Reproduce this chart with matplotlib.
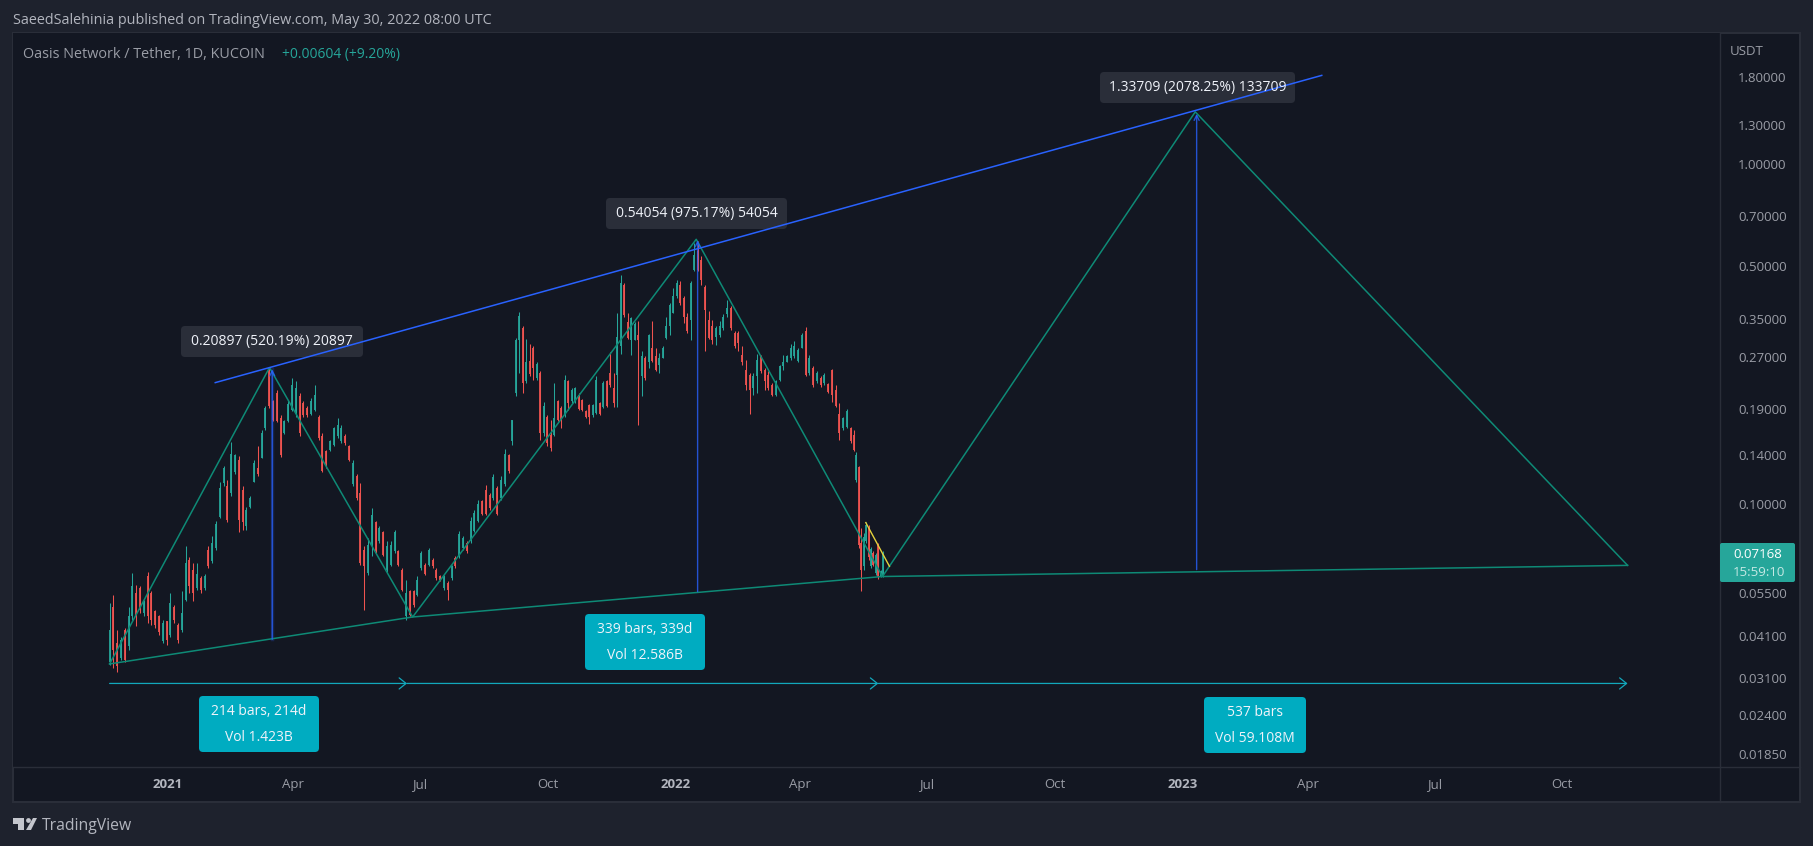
import numpy as np
import pandas as pd
import matplotlib
matplotlib.use('Agg')
import matplotlib.pyplot as plt
import matplotlib.dates as mdates
from matplotlib.patches import Rectangle, FancyBboxPatch, Polygon, Circle
from matplotlib.lines import Line2D
from matplotlib.ticker import NullLocator
from matplotlib.transforms import Affine2D

plt.rcParams['font.family'] = ['Open Sans', 'DejaVu Sans']

# candles
opens = [.0345,.0501,.0391,.0353,.0428,.0383,.0469,.0549,.0568,.0479,.0615,.0549,.0485,.0469,.0396,.0453,.0414,.0501,.0443,.0428,
         .0525,.0688,.0643,.0568,.0608,.0568,.0736,.0682,.0743,.0920,.1153,.1134,.1080,.1242,.1353,.1104,.0861,.0985,.1166,.1280,
         .1366,.1676,.2487,.2008,.2120,.1790,.1621,.1756,.1897,.1843,.2075,.1986,.1918,.1843,.1897,.1807,.1590,.1430,.1447,.1497,
         .1590,.1535,.1590,.1480,.1148,.1214,.1080,.0736,.0630,.0753,.0885,.0779,.0827,.0643,.0665,.0728,.0728,.0643,.0469,.0555,
         .0555,.0543,.0650,.0665,.0665,.0688,.0643,.0615,.0568,.0588,.0608,.0696,.0704,.0743,.0771,.0779,.0835,.0893,.1020,.1104,
         .1068,.1044,.1118,.1044,.1148,.1398,
         .1530,.2120,.3046,.3300,.2300,.2640,.2880,.2350,.2430,.1620,.1810,.1600,.1600,.2010,.1920,.1830,.2300,.2010,.2010,.2100,
         .2030,.1880,.1960,.1830,.1860,.1980,.1935,.2300,.2430,.2190,.2400,.2910,.4420,.3420,.3046,.3046,.3150,.2380,.2690,.2610,
         .2870,.2720,.2570,.2690,.3080,.3340,.3640,.4100,.4420,.4030,.3560,.3488,.4891,.5530,.5233,.4340,.3488,.3340,.3110,.3150,
         .3300,.3610,.3760,.3190,.3190,.2750,.2487,.2400,.2190,.2380,.2720,.2487,.2400,.2240,.2100,.2324,.2540,.2620,.2690,.2720,
         .2640,.2880,.3230,.2430,.2510,.2300,.2350,.2270,.2255,.2487,.2172,.1840,.1675,.1690,.1675,.1600,.1180,.1290,.0770,.0660,
         .0780,.0860,.0660,.0722,.0630,.0760,.0618,.0620]
highs = [.0513,.0543,.0428,.0409,.0433,.0501,.0629,.0581,.0574,.0525,.0632,.0555,.0490,.0474,.0458,.0453,.0549,.0507,.0448,.0555,
         .0756,.0699,.0671,.0671,.0615,.0626,.0753,.0810,.0893,.1166,.1294,.1181,.1529,.1410,.1390,.1134,.0985,.1056,.1353,.1480,
         .1657,.1940,.2514,.2030,.2172,.1835,.1773,.2030,.2348,.2297,.2120,.2008,.1940,.2053,.2241,.1825,.1621,.1447,.1549,.1688,
         .1790,.1705,.1605,.1497,.1353,.1226,.1153,.0753,.0797,.0975,.0893,.0861,.0835,.0779,.0779,.0843,.0736,.0650,.0601,.0561,
         .0561,.0615,.0728,.0671,.0743,.0696,.0650,.0619,.0619,.0595,.0665,.0704,.0835,.0810,.0779,.0920,.0965,.1032,.1032,.1140,
         .1080,.1226,.1134,.1214,.1453,.1410,
         .1773,.3080,.3676,.3340,.3060,.2950,.2910,.2610,.2460,.2000,.1830,.1773,.2270,.2030,.1940,.2405,.2324,.2190,.2205,.2125,
         .2045,.1897,.1975,.1975,.2380,.2000,.2300,.2324,.2810,.2430,.3640,.4700,.4470,.3640,.3560,.3420,.3450,.2820,.2720,.3170,
         .3450,.2870,.2780,.2910,.3560,.3900,.4320,.4571,.4520,.4100,.3640,.4520,.5860,.5950,.5350,.4420,.3690,.3488,.3340,.3450,
         .3610,.3993,.3810,.3230,.3230,.2910,.2661,.2430,.2430,.2770,.2750,.2510,.2460,.2270,.2324,.2570,.2750,.2750,.2960,.3010,
         .2880,.3190,.3310,.2750,.2540,.2460,.2380,.2430,.2270,.2500,.2240,.1980,.1810,.1905,.1690,.1657,.1420,.1300,.0850,.0822,
         .0888,.0870,.0750,.0730,.0722,.0768,.0640,.0730]
lows = [.0338,.0330,.0323,.0349,.0345,.0374,.0458,.0438,.0479,.0469,.0448,.0443,.0433,.0414,.0391,.0387,.0409,.0448,.0391,.0423,
        .0520,.0549,.0520,.0561,.0549,.0561,.0650,.0671,.0736,.0911,.1134,.0885,.1056,.1226,.0831,.0843,.0843,.0975,.1166,.1214,
        .1366,.1657,.1918,.1756,.1740,.1380,.1605,.1740,.1880,.1807,.1590,.1807,.1807,.1825,.1880,.1549,.1245,.1280,.1430,.1480,
        .1565,.1514,.1497,.1337,.1134,.1032,.0665,.0490,.0619,.0704,.0719,.0771,.0704,.0635,.0657,.0719,.0657,.0555,.0458,.0469,
        .0501,.0537,.0643,.0619,.0657,.0650,.0601,.0595,.0561,.0525,.0601,.0650,.0696,.0736,.0719,.0771,.0827,.0885,.0930,.0930,
        .0965,.1032,.0930,.1032,.1134,.1238,
        .1495,.2075,.2430,.2120,.2270,.2380,.2324,.2324,.1549,.1585,.1480,.1430,.1585,.1755,.1675,.1810,.1897,.1980,.1980,.1897,
        .1880,.1790,.1725,.1810,.1840,.1830,.1915,.1935,.2210,.1935,.1935,.2760,.3550,.3060,.2750,.3030,.1715,.2075,.2324,.2510,
        .2610,.2460,.2430,.2690,.3060,.3150,.3640,.4030,.3850,.3410,.3190,.3046,.4830,.4830,.4420,.2820,.3060,.2950,.2930,.3110,
        .3260,.3560,.3260,.2880,.2820,.2570,.2172,.1840,.2100,.2125,.2430,.2172,.2172,.2075,.2075,.2300,.2487,.2610,.2661,.2690,
        .2610,.2880,.2380,.2400,.2210,.2270,.2210,.2240,.2125,.2000,.1935,.1549,.1657,.1675,.1515,.1430,.1165,.0745,.0557,.0643,
        .0768,.0688,.0651,.0657,.0620,.0605,.0614,.0614]
closes = [.0428,.0374,.0335,.0400,.0349,.0469,.0574,.0469,.0490,.0520,.0469,.0458,.0443,.0423,.0448,.0400,.0513,.0458,.0400,.0479,
          .0671,.0574,.0549,.0626,.0561,.0615,.0657,.0771,.0876,.1118,.1280,.0902,.1410,.1398,.0902,.0885,.0965,.1044,.1320,.1226,
          .1621,.1918,.1940,.1773,.1756,.1400,.1756,.1965,.2241,.2200,.1621,.1825,.1825,.2008,.2098,.1565,.1250,.1294,.1535,.1676,
          .1705,.1676,.1514,.1353,.1320,.1044,.0671,.0657,.0762,.0930,.0728,.0852,.0712,.0753,.0762,.0827,.0665,.0561,.0549,.0474,
          .0507,.0601,.0719,.0626,.0736,.0657,.0608,.0598,.0615,.0561,.0657,.0657,.0819,.0797,.0728,.0893,.0945,.1000,.0940,.0940,
          .0975,.1200,.0940,.1181,.1410,.1250,
          .1773,.3046,.3570,.2270,.2610,.2410,.2510,.2580,.1620,.1950,.1515,.1465,.1790,.1773,.1773,.2324,.1980,.2172,.2190,.1910,
          .1897,.1800,.1810,.1960,.2324,.1840,.2270,.1950,.2240,.1980,.3110,.4470,.3600,.3080,.3520,.3380,.3046,.2720,.2350,.3150,
          .2640,.2487,.2690,.2880,.3340,.3850,.4100,.4470,.3900,.3560,.3230,.4470,.5410,.4891,.4571,.3730,.3080,.3046,.3300,.3340,
          .3560,.3760,.3300,.2910,.2980,.2610,.2240,.2172,.2380,.2661,.2460,.2300,.2190,.2100,.2300,.2540,.2610,.2720,.2880,.2910,
          .2847,.3150,.2400,.2690,.2240,.2430,.2240,.2400,.2140,.2100,.1950,.1620,.1790,.1880,.1530,.1440,.1400,.0760,.0640,.0800,
          .0870,.0700,.0740,.0665,.0710,.0612,.0636,.0717]

# zigzag and channel drawings
zigzag_dates = ['2020-11-20', '2021-03-15', '2021-06-26', '2022-01-16', '2022-05-30', '2023-01-10', '2023-11-17']
zigzag_prices = [.0340, .2520, .0467, .600, .0614, 1.42, .0662]
lower_dates = ['2020-11-20', '2021-06-26', '2022-05-30', '2023-11-17']
lower_prices = [.0340, .0467, .0614, .0662]
upper_dates = ['2021-02-04', '2023-04-11']
upper_prices = [.2277, 1.817]
wedge_dates = ['2022-05-18', '2022-06-04']
wedge_prices = [.0884, .0658]
measure_dates = ['2021-03-17', '2022-01-17', '2023-01-11']
measure_lows = [.04017, .05543, .06434]
measure_highs = [.24914, .59597, 1.40143]
measure_labels = ['0.20897 (520.19%) 20897', '0.54054 (975.17%) 54054', '1.33709 (2078.25%) 133709']
span_dates = ['2020-11-20', '2021-06-22', '2022-05-27', '2023-11-17']
span_price = .0298
span_labels = [['214 bars, 214d', 'Vol 1.423B'], ['339 bars, 339d', 'Vol 12.586B'], ['537 bars', 'Vol 59.108M']]

price_ticks = [1.8, 1.3, 1.0, .7, .5, .35, .27, .19, .14, .10, .075, .055, .041, .031, .024, .0185]
time_ticks = ['2021-01-01', '2021-04-01', '2021-07-01', '2021-10-01', '2022-01-01', '2022-04-01', '2022-07-01',
              '2022-10-01', '2023-01-01', '2023-04-01', '2023-07-01', '2023-10-01']
time_labels = ['2021', 'Apr', 'Jul', 'Oct', '2022', 'Apr', 'Jul', 'Oct', '2023', 'Apr', 'Jul', 'Oct']

BG = '#1e222d'
PANE = '#131722'
EDGE = '#2a2e39'
GREEN = '#26a69a'
RED = '#ef5350'
LINE_GREEN = '#0e8a76'
BLUE = '#2962ff'
CYAN = '#00acc1'
GREY = '#9a9da6'

W, H = 1813, 846


def dnum(s):
    return mdates.date2num(pd.to_datetime(s))


fig = plt.figure(figsize=(W / 100, H / 100), dpi=100, facecolor=BG)
# pixel coordinates, origin top left
px = Affine2D().scale(1, -1).translate(0, H)

L, T, R, B = 13, 33, 1720, 767
ax = fig.add_axes([L / W, 1 - B / H, (R - L) / W, (B - T) / H], facecolor=PANE)
fig.add_artist(Rectangle((L, T), 1800 - L, 802 - T, transform=px, fc=PANE, ec=EDGE, lw=1.5, zorder=-1))
fig.add_artist(Line2D([R, R], [B, 802], transform=px, color=EDGE, lw=1, zorder=-0.5))
fig.add_artist(Line2D([R, 1800], [B, B], transform=px, color=EDGE, lw=1, zorder=-0.5))

ax.set_yscale('log')
day0 = dnum('2021-01-01')
ax.set_xlim(day0 - 111.5, day0 + 1116.5)
ax.set_ylim(.01694, 2.42)

for side in ['top', 'left']:
    ax.spines[side].set_visible(False)
for side in ['right', 'bottom']:
    ax.spines[side].set_color(EDGE)
    ax.spines[side].set_linewidth(1)

# the bar spacing is not quite even in the reference because of the 1D thinning
bar_x = day0 + np.concatenate([np.linspace(-42, 245, 106), np.linspace(247.5, 381, 54),
                               np.linspace(383.5, 491, 41), np.linspace(493.5, 514.5, 13)])
o, h, l, c = [np.array(v) for v in (opens, highs, lows, closes)]
colors = np.where(c >= o, GREEN, RED)
ax.vlines(bar_x, l, h, colors=colors, lw=0.75, zorder=2)
ax.vlines(bar_x, o, c, colors=colors, lw=1.3, zorder=2)

ax.plot([dnum(d) for d in zigzag_dates], zigzag_prices, color=LINE_GREEN, lw=1.1, zorder=3)
ax.plot([dnum(d) for d in lower_dates], lower_prices, color=LINE_GREEN, lw=1.1, zorder=3)
# runs over the label boxes in the reference
ax.plot([dnum(d) for d in upper_dates], upper_prices, color=BLUE, lw=1.1, zorder=7.5)
ax.plot([dnum(d) for d in wedge_dates], wedge_prices, color='#e3d23c', lw=1.0, zorder=3)

# price ranges
for d, lo, hi in zip(measure_dates, measure_lows, measure_highs):
    ax.annotate('', xy=(dnum(d), hi), xytext=(dnum(d), lo), zorder=3,
                arrowprops=dict(arrowstyle='->', color=BLUE, lw=1, shrinkA=0, shrinkB=0, mutation_scale=9, alpha=.8))
ax.plot([dnum(measure_dates[0])] * 2, [measure_lows[0], measure_highs[0]], color=BLUE, lw=2.5, alpha=.2, zorder=2)

# date ranges
for d0, d1 in zip(span_dates[:-1], span_dates[1:]):
    ax.annotate('', xy=(dnum(d1), span_price), xytext=(dnum(d0), span_price), zorder=3,
                arrowprops=dict(arrowstyle='->,head_length=.5,head_width=.4', color='#12a8bc', lw=0.9,
                                shrinkA=0, shrinkB=0, mutation_scale=10))

ax.yaxis.tick_right()
ax.set_yticks(price_ticks)
ax.set_yticklabels(['%.5f' % p for p in price_ticks])
ax.yaxis.set_minor_locator(NullLocator())
ax.tick_params(axis='y', length=0, pad=13, labelcolor=GREY, labelsize=9.5)
ax.set_xticks([dnum(d) for d in time_ticks])
ax.set_xticklabels(time_labels)
ax.tick_params(axis='x', length=0, pad=8, labelcolor=GREY, labelsize=9.5)
for lab in ax.get_xticklabels():
    if lab.get_text().startswith('20'):
        lab.set_fontweight('bold')
        lab.set_color('#b2b5be')


def txt(x, y, s, size=9.5, color=GREY, ha='left', zorder=8, **kw):
    ax.text(x, y, s, transform=px, fontsize=size, color=color, ha=ha, va='center', zorder=zorder, clip_on=False, **kw)


def box(x0, y0, x1, y1, color, r=4):
    ax.add_patch(FancyBboxPatch((x0 + r, y0 + r), x1 - x0 - 2 * r, y1 - y0 - 2 * r, transform=px,
                                boxstyle='round,pad=%d,rounding_size=%d' % (r, r), fc=color, ec='none',
                                clip_on=False, zorder=7))


# measure labels
tip_boxes = [(181, 326, 363, 357), (606, 198, 787, 229), (1100, 72, 1295, 103)]
for (x0, y0, x1, y1), s in zip(tip_boxes, measure_labels):
    box(x0, y0, x1, y1, '#2a2e39')
    txt((x0 + x1) / 2, (y0 + y1) / 2, s, size=10, color='#f0f3fa', ha='center')

# bar count labels
count_boxes = [(199, 696, 319, 752), (585, 614, 705, 670), (1204, 697, 1306, 753)]
for (x0, y0, x1, y1), lines in zip(count_boxes, span_labels):
    box(x0, y0, x1, y1, CYAN)
    txt((x0 + x1) / 2, y0 + 15, lines[0], size=10, color='#f0f3fa', ha='center')
    txt((x0 + x1) / 2, y0 + 41, lines[1], size=10, color='#f0f3fa', ha='center')

# last price tag
box(1720, 543, 1795, 582, GREEN, r=2)
txt(1733, 554, '0.07168', size=9.5, color='#ffffff')
txt(1733, 572, '15:59:10', size=9.5, color='#c5e8e4')
txt(1730, 51, 'USDT', size=9.5, color=GREY)

# header
txt(13, 20, 'SaeedSalehinia published on TradingView.com, May 30, 2022 08:00 UTC', size=10.4, color='#b2b5be')
txt(23, 54, 'Oasis Network / Tether, 1D, KUCOIN', size=10.4, color=GREY)
txt(282, 54, '+0.00604 (+9.20%)', size=10, color=GREEN)

# logo
for pts in ([(13, 818), (24, 818), (24, 830), (18, 830), (18, 824), (13, 824)],
            [(33, 818), (37, 818), (31, 830), (26, 830)]):
    ax.add_patch(Polygon(pts, transform=px, fc='#c4c6cd', ec='none', clip_on=False, zorder=8))
ax.add_patch(Circle((28.5, 820.5), 2.4, transform=px, fc='#c4c6cd', ec='none', clip_on=False, zorder=8))
txt(42, 826, 'TradingView', size=11.3, color='#b2b5be')

fig.savefig('out.png', dpi=100, facecolor=BG)
